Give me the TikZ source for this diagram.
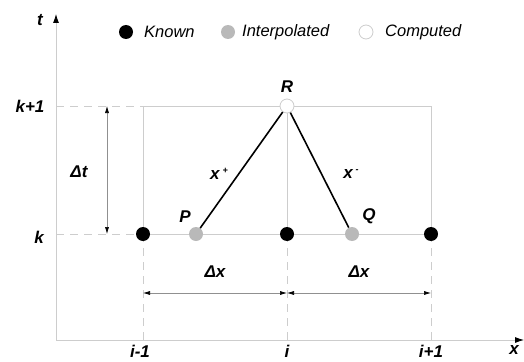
\documentclass[tikz,border=0pt]{standalone}
\usepackage{fontspec}
\setmainfont{Liberation Sans}
\usepackage{xcolor}
\usepackage{tikz}
\usetikzlibrary{arrows, arrows.meta, positioning, calc}
\definecolor{gridgray}{RGB}{205,205,205}
\definecolor{interpgray}{RGB}{185,185,185}

\tikzset{
    dot/.style={circle, inner sep=0pt, minimum size=14pt},
    known/.style={dot, fill=black},
    interp/.style={dot, fill=interpgray},
    computed/.style={dot, draw=gridgray, line width=0.8pt, fill=white},
    lbl/.style={font=\fontsize{17}{17}\selectfont\bfseries\itshape},
    leg/.style={font=\fontsize{16.5}{16.5}\selectfont\itshape, anchor=west, inner sep=0pt},
    gridline/.style={gridgray, line width=0.8pt},
    guide/.style={gridgray, dash pattern=on 8pt off 6pt, line width=0.8pt},
    dimline/.style={gridgray!70!black, line width=0.6pt,
        {Latex[black, length=7pt, width=4pt]}-{Latex[black, length=7pt, width=4pt]}},
    axisline/.style={gridgray, line width=0.8pt, -{Latex[black, length=9pt, width=6pt]}},
}

\begin{document}
\begin{tikzpicture}[x=1pt, y=-1pt]
    \useasboundingbox (0,0) rectangle (524,361);
    % axes
    \coordinate (O) at (56,340);
    \coordinate (Tend) at (56,14);
    \coordinate (Xend) at (524,340);
    \draw[axisline] (O) -- (Tend);
    \draw[axisline] (O) -- (Xend);
    \node[lbl] (tlab) at (40,20) {t};
    \node[lbl] (xlab) at (514,350) {x};

    % grid corners
    \coordinate (A) at (143,106);
    \coordinate (B) at (431,106);
    \coordinate (C) at (143,234);
    \coordinate (D) at (431,234);
    \coordinate (Mt) at (287,106);
    \coordinate (Mb) at (287,234);
    \draw[gridline] (A) -- (B) -- (D) -- (C) -- cycle;
    \draw[gridline] (Mt) -- (Mb);

    % guides to the axes
    \coordinate (Ak) at (56,106);
    \coordinate (Ck) at (56,234);
    \draw[guide] (Ak) -- (A);
    \draw[guide] (Ck) -- (C);
    \foreach \p/\q in {143/C, 287/Mb, 431/D}
        \draw[guide] (\q) -- (\p,340);

    % tick labels
    \node[lbl] (kone) at (30,106) {k+1};
    \node[lbl] (klab) at (39,237) {k};
    \node[lbl] (im) at (140,351) {i-1};
    \node[lbl] (ii) at (287,351) {i};
    \node[lbl] (ip) at (431,351) {i+1};

    % dimensions
    \coordinate (dt1) at (107,106);
    \coordinate (dt2) at (107,234);
    \draw[dimline] (dt1) -- (dt2);
    \node[lbl] (dtlab) at (79,172) {Δt};
    \coordinate (dx1) at (143,293);
    \coordinate (dx2) at (287,293);
    \coordinate (dx3) at (431,293);
    \draw[dimline] (dx1) -- (dx2);
    \draw[dimline] (dx2) -- (dx3);
    \node[lbl] (dxa) at (215,272) {Δx};
    \node[lbl] (dxb) at (359,272) {Δx};

    % points
    \node[known] (K1) at (C) {};
    \node[known] (K2) at (Mb) {};
    \node[known] (K3) at (D) {};
    \node[interp] (P) at (196,234) {};
    \node[interp] (Q) at (352,234) {};
    \node[computed] (R) at (Mt) {};
    \draw[line width=1.6pt] (P) -- (R);
    \draw[line width=1.6pt] (Q) -- (R);
    \node[lbl] (Plab) at (185,217) {P};
    \node[lbl] (Qlab) at (369,216) {Q};
    \node[lbl] (Rlab) at (287,87) {R};
    \node[lbl] (xplus) at (219,174) {x\,\raisebox{6pt}{\fontsize{9}{9}\selectfont+}};
    \node[lbl] (xminus) at (351,174) {x\,\raisebox{6pt}{\fontsize{9}{9}\selectfont-}};

    % legend
    \node[known] (Lk) at (126,32) {};
    \node[leg] (Lktxt) at (144,32) {Known};
    \node[interp] (Li) at (228,32) {};
    \node[leg] (Litxt) at (242,32) {Interpolated};
    \node[computed] (Lc) at (366,32) {};
    \node[leg] (Lctxt) at (385,32) {Computed};
\end{tikzpicture}
\end{document}
